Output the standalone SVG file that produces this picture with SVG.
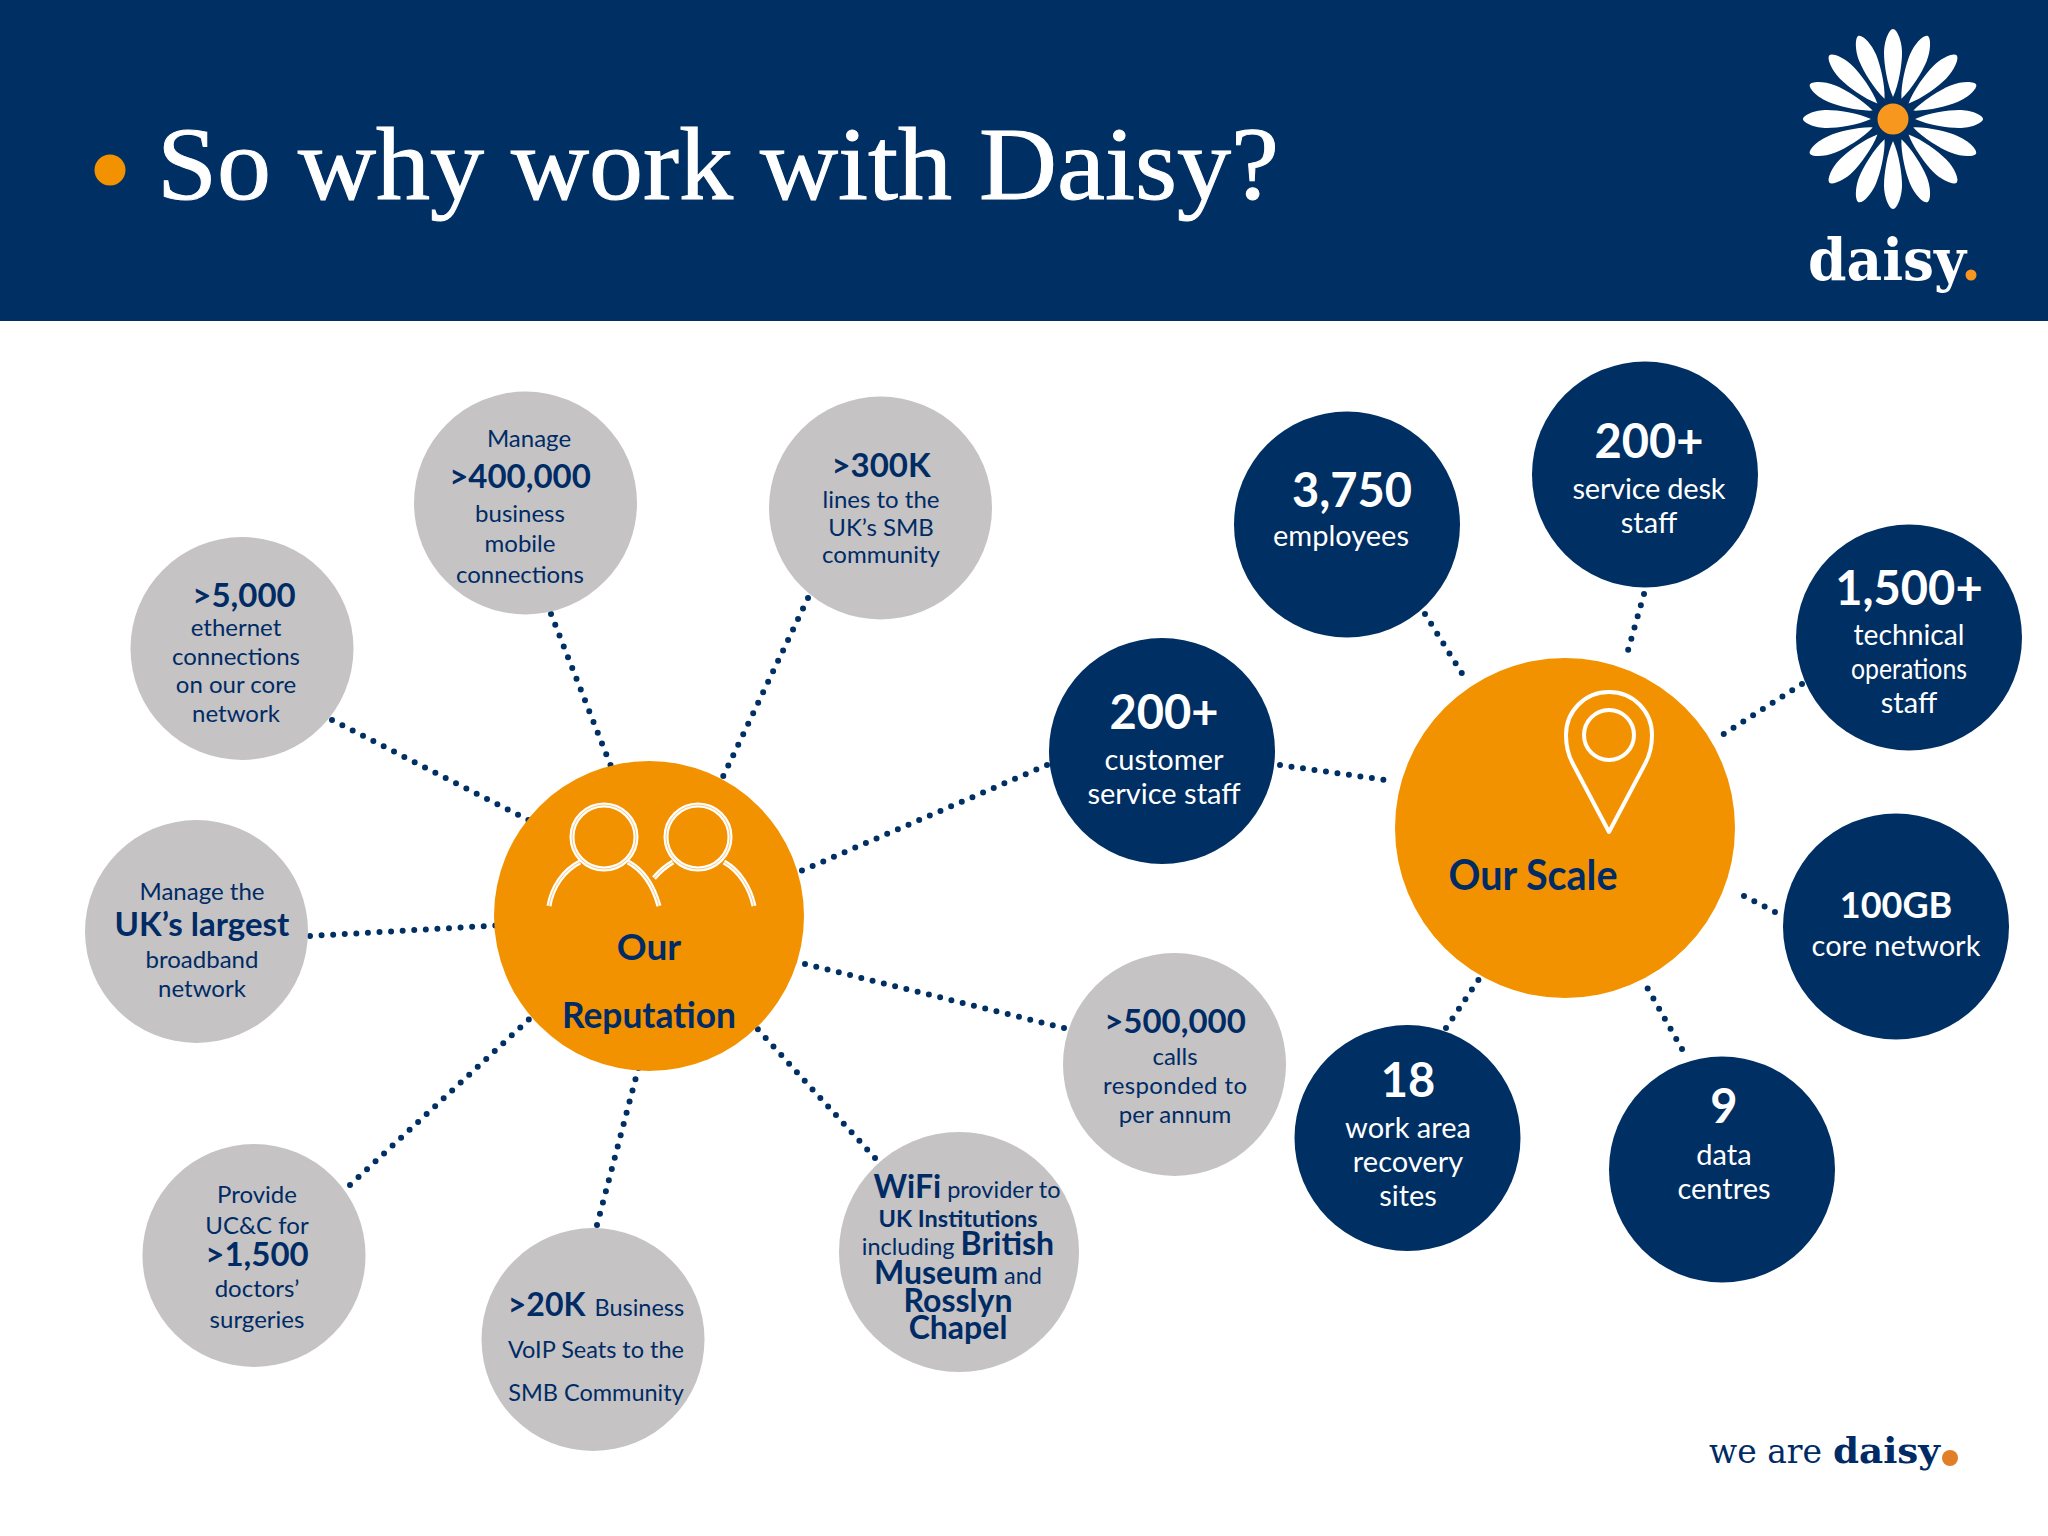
<svg xmlns="http://www.w3.org/2000/svg" width="2048" height="1536" viewBox="0 0 2048 1536">
<style>
text{font-family:Lato,"Liberation Sans",sans-serif;text-anchor:middle;fill:#002b65}
.g{fill:#c5c3c4}.n{fill:#002f63}.o{fill:#f39200}
.s{font-size:24px}.m{font-size:33px;font-weight:700}
.s2{font-size:23.500px}.m2{font-size:32px;font-weight:700}
.w{fill:#fff;font-size:29px}.h{fill:#fff;font-size:47px;font-weight:700}
.c{font-size:37px;font-weight:700}
.ser{font-family:"Liberation Serif","DejaVu Serif",serif;text-anchor:start}
.sl{font-family:"DejaVu Serif","Liberation Serif",serif;text-anchor:start}
.dot{fill:none;stroke:#002f63;stroke-width:6;stroke-linecap:round;stroke-dasharray:0 11.6}
.ic{fill:none;stroke:#fff;stroke-width:5}
.ic2{fill:none;stroke:#f8c981;stroke-width:1}
</style>
<defs>
<path id="petal" d="M0-22C-6-35-9-55-9-66C-9-78-4-90 0-90C4-90 9-78 9-66C9-55 6-35 0-22Z" fill="#fff"/>
<g id="people"><circle cx="604" cy="837" r="32"/><circle cx="698" cy="837" r="32"/><path d="M549 906C552 887 564 870 580 862M628 862C645 871 654 888 659 906M654 878C660 871 666 866 673 862M724 862C740 871 750 888 754 906"/></g>
</defs>
<rect id="header" width="2048" height="321" class="n"/>
<circle cx="110" cy="170" r="15.5" class="o"/>
<text x="157" y="199" class="ser" font-size="103" style="fill:#fff;stroke:#fff;stroke-width:1" textLength="1122" lengthAdjust="spacingAndGlyphs">So why work with Daisy?</text>
<g id="logo">
<use href="#petal" transform="translate(1893 119)"/><use href="#petal" transform="translate(1893 119) rotate(22.5)"/><use href="#petal" transform="translate(1893 119) rotate(45)"/><use href="#petal" transform="translate(1893 119) rotate(67.5)"/><use href="#petal" transform="translate(1893 119) rotate(90)"/><use href="#petal" transform="translate(1893 119) rotate(112.5)"/><use href="#petal" transform="translate(1893 119) rotate(135)"/><use href="#petal" transform="translate(1893 119) rotate(157.5)"/><use href="#petal" transform="translate(1893 119) rotate(180)"/><use href="#petal" transform="translate(1893 119) rotate(202.5)"/><use href="#petal" transform="translate(1893 119) rotate(225)"/><use href="#petal" transform="translate(1893 119) rotate(247.5)"/><use href="#petal" transform="translate(1893 119) rotate(270)"/><use href="#petal" transform="translate(1893 119) rotate(292.5)"/><use href="#petal" transform="translate(1893 119) rotate(315)"/><use href="#petal" transform="translate(1893 119) rotate(337.5)"/>
<circle cx="1893" cy="119" r="15.5" fill="#f7971d"/>
<text x="1808" y="280" class="sl" font-size="58" font-weight="700" style="fill:#fff" textLength="158" lengthAdjust="spacingAndGlyphs">daisy</text>
<circle cx="1971" cy="275" r="5.5" fill="#f7971d"/>
</g>
<g id="connectors" class="dot">
<path d="M551 614L614 774"/><path d="M808 598L720 783"/><path d="M332 720L536 824"/><path d="M310 936L505 925"/><path d="M350 1185L537 1012"/><path d="M597 1225L640 1062"/><path d="M875 1158L753 1024"/><path d="M1064 1028L789 960"/><path d="M1047 765L794 874"/><path d="M1280 765L1392 781"/><path d="M1425 614L1466 680"/><path d="M1644 594L1627 654"/><path d="M1802 684L1722 735"/><path d="M1744 896L1779 914"/><path d="M1682 1049L1644 982"/><path d="M1446 1028L1481 976"/>
</g>
<g id="reputation"><circle cx="649" cy="916" r="155" class="o"/>
<use href="#people" class="ic"/><use href="#people" class="ic2"/>
<text x="649" y="960" class="c">Our</text><text x="649" y="1028" class="c" textLength="174" lengthAdjust="spacingAndGlyphs">Reputation</text></g>
<g id="scale"><circle cx="1565" cy="828" r="170" class="o"/>
<path d="M1609 832L1573 764C1568 755 1566 746 1566 735C1566 711 1585 692 1609 692C1633 692 1652 711 1652 735C1652 746 1650 755 1645 764Z" class="ic" stroke-linejoin="round" style="stroke-width:4"/><circle cx="1609" cy="735" r="25" class="ic" style="stroke-width:4"/>
<text x="1533" y="890" font-size="42" font-weight="700" textLength="169" lengthAdjust="spacingAndGlyphs">Our Scale</text></g>
<g id="n-manage"><circle cx="525.5" cy="503" r="111.5" class="g"/>
<text x="529" y="447" class="s">Manage</text><text x="520" y="488" class="m">&gt;400,000</text><text x="520" y="522" class="s">business</text><text x="520" y="552" class="s">mobile</text><text x="520" y="583" class="s">connections</text></g>
<g id="n-300k"><circle cx="880.5" cy="508" r="111.5" class="g"/>
<text x="881" y="477" class="m">&gt;300K</text><text x="881" y="508" class="s">lines to the</text><text x="881" y="536" class="s">UK’s SMB</text><text x="881" y="563" class="s">community</text></g>
<g id="n-5000"><circle cx="242" cy="648.500" r="111.5" class="g"/>
<text x="244" y="607" class="m">&gt;5,000</text><text x="236" y="636" class="s">ethernet</text><text x="236" y="665" class="s">connections</text><text x="236" y="693" class="s">on our core</text><text x="236" y="722" class="s">network</text></g>
<g id="n-largest"><circle cx="196.500" cy="931.500" r="111.5" class="g"/>
<text x="202" y="900" class="s">Manage the</text><text x="202" y="936" class="m">UK’s largest</text><text x="202" y="968" class="s">broadband</text><text x="202" y="997" class="s">network</text></g>
<g id="n-doctors"><circle cx="254" cy="1255.500" r="111.5" class="g"/>
<text x="257" y="1203" class="s">Provide</text><text x="257" y="1234" class="s">UC&amp;C for</text><text x="257" y="1266" class="m">&gt;1,500</text><text x="257" y="1297" class="s">doctors’</text><text x="257" y="1328" class="s">surgeries</text></g>
<g id="n-20k"><circle cx="593" cy="1339.500" r="111.5" class="g"/>
<text x="596" y="1316" class="s2"><tspan class="m2">&gt;20K</tspan><tspan dx="3"> Business</tspan></text><text x="596" y="1358" class="s2">VoIP Seats to the</text><text x="596" y="1401" class="s2">SMB Community</text></g>
<g id="n-wifi"><circle cx="959" cy="1252" r="120" class="g"/>
<text x="967" y="1198" class="s2"><tspan class="m2">WiFi</tspan> provider to</text><text x="958" y="1227" class="s2" font-weight="700">UK Institutions</text><text x="958" y="1255" class="s2">including <tspan class="m2">British</tspan></text><text x="958" y="1284" class="s2"><tspan class="m2">Museum</tspan> and</text><text x="958" y="1312" class="m2">Rosslyn</text><text x="958" y="1339" class="m2">Chapel</text></g>
<g id="n-500k"><circle cx="1174.500" cy="1064.500" r="111.5" class="g"/>
<text x="1175" y="1033" class="m">&gt;500,000</text><text x="1175" y="1065" class="s">calls</text><text x="1175" y="1094" class="s" textLength="144">responded to</text><text x="1175" y="1123" class="s">per annum</text></g>
<g id="n-employees"><circle cx="1347" cy="524.500" r="113" class="n"/>
<text x="1352" y="507" class="h">3,750</text><text x="1341" y="546" class="w">employees</text></g>
<g id="n-servicedesk"><circle cx="1645" cy="474.500" r="113" class="n"/>
<text x="1649" y="458" class="h">200+</text><text x="1649" y="499" class="w" textLength="153">service desk</text><text x="1649" y="533" class="w">staff</text></g>
<g id="n-technical"><circle cx="1909" cy="637.500" r="113" class="n"/>
<text x="1909" y="605" class="h">1,500+</text><text x="1909" y="645" class="w" textLength="111" lengthAdjust="spacingAndGlyphs">technical</text><text x="1909" y="679" class="w" textLength="116" lengthAdjust="spacingAndGlyphs">operations</text><text x="1909" y="713" class="w">staff</text></g>
<g id="n-core"><circle cx="1896" cy="926.500" r="113" class="n"/>
<text x="1896" y="918" class="h" style="font-size:36px">100GB</text><text x="1896" y="956" class="w">core network</text></g>
<g id="n-data"><circle cx="1722" cy="1169.500" r="113" class="n"/>
<text x="1724" y="1123" class="h">9</text><text x="1724" y="1165" class="w">data</text><text x="1724" y="1199" class="w">centres</text></g>
<g id="n-recovery"><circle cx="1407.500" cy="1138" r="113" class="n"/>
<text x="1408" y="1097" class="h">18</text><text x="1408" y="1138" class="w">work area</text><text x="1408" y="1172" class="w">recovery</text><text x="1408" y="1206" class="w">sites</text></g>
<g id="n-customer"><circle cx="1162" cy="751" r="113" class="n"/>
<text x="1164" y="729" class="h">200+</text><text x="1164" y="770" class="w">customer</text><text x="1164" y="804" class="w">service staff</text></g>
<g id="tagline"><text x="1709" y="1463" class="sl" font-size="34" textLength="113" lengthAdjust="spacingAndGlyphs">we are</text><text x="1833" y="1463" class="sl" font-size="36" font-weight="700" textLength="107" lengthAdjust="spacingAndGlyphs">daisy</text><circle cx="1950" cy="1458" r="8" fill="#e07f28"/></g>
</svg>
